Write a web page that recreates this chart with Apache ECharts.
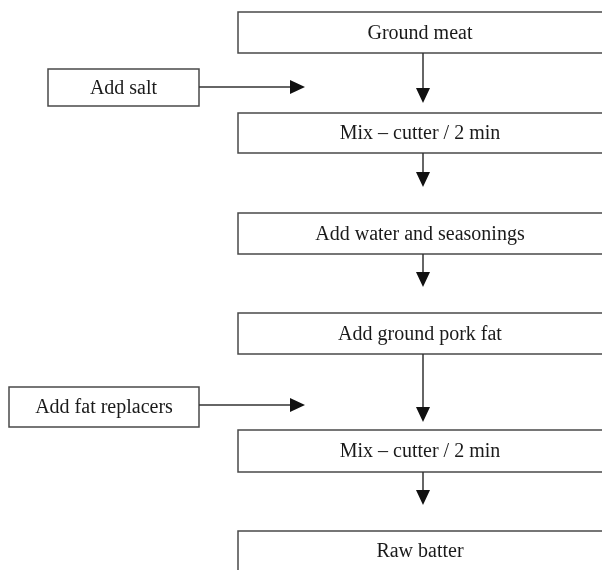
<!DOCTYPE html>
<html>
<head>
<meta charset="utf-8">
<script src="https://cdn.jsdelivr.net/npm/echarts@6/dist/echarts.min.js"></script>
<style>html,body{margin:0;padding:0;background:#fff}#c{width:602px;height:570px}</style>
</head>
<body>
<div id="c"></div>
<script>
// Flowchart labels
const steps = ['Ground meat', 'Mix – cutter / 2 min', 'Add water and seasonings', 'Add ground pork fat', 'Mix – cutter / 2 min', 'Raw batter'];
const additions = ['Add salt', 'Add fat replacers'];

// Layout (chart units = pixels of the canvas)
const mainX = [238, 606];
const mainY = [[12, 53], [113, 153], [213, 254], [313, 354], [430, 472], [531, 590]];
const sideX = [[48, 199], [9, 199]];
const sideY = [[69, 106], [387, 427]];
const flowX = 423;
const vArrows = [[53, 103], [153, 187], [254, 287], [354, 422], [472, 505]];
const hArrowY = [87, 405];
const hArrowX = [199, 305];

const boxData = [];
steps.forEach((s, i) => boxData.push([mainX[0], mainY[i][0], mainX[1], mainY[i][1], s]));
additions.forEach((s, i) => boxData.push([sideX[i][0], sideY[i][0], sideX[i][1], sideY[i][1], s]));

const arrowData = [];
vArrows.forEach(a => arrowData.push([flowX, a[0], flowX, a[1]]));
hArrowY.forEach(y => arrowData.push([hArrowX[0], y, hArrowX[1], y]));

const chart = echarts.init(document.getElementById('c'), null, {renderer: 'canvas'});
chart.setOption({
  animation: false,
  backgroundColor: '#ffffff',
  grid: {left: 0, right: 0, top: 0, bottom: 0},
  xAxis: {type: 'value', min: 0, max: 602, show: false},
  yAxis: {type: 'value', min: 0, max: 570, inverse: true, show: false},
  series: [
    {
      type: 'custom',
      coordinateSystem: 'cartesian2d',
      data: boxData,
      encode: {x: [0, 2], y: [1, 3]},
      clip: false,
      renderItem: function (params, api) {
        const p0 = api.coord([api.value(0), api.value(1)]);
        const p1 = api.coord([api.value(2), api.value(3)]);
        const label = boxData[params.dataIndex][4];
        return {
          type: 'group',
          children: [
            {type: 'rect', shape: {x: p0[0], y: p0[1], width: p1[0] - p0[0], height: p1[1] - p0[1]},
             style: {fill: '#ffffff', stroke: '#4a4a4a', lineWidth: 1.5}},
            {type: 'text', style: {x: (p0[0] + Math.min(p1[0], 602)) / 2, y: (p0[1] + Math.min(p1[1], 570)) / 2 + 1,
              text: label, fill: '#1a1a1a', font: '20px "Liberation Serif", "DejaVu Serif", serif',
              align: 'center', verticalAlign: 'middle'}}
          ]
        };
      }
    },
    {
      type: 'custom',
      coordinateSystem: 'cartesian2d',
      data: arrowData,
      encode: {x: [0, 2], y: [1, 3]},
      clip: false,
      renderItem: function (params, api) {
        const a = api.coord([api.value(0), api.value(1)]);
        const b = api.coord([api.value(2), api.value(3)]);
        const dx = b[0] - a[0], dy = b[1] - a[1];
        const len = Math.sqrt(dx * dx + dy * dy);
        const ux = dx / len, uy = dy / len;
        const hl = 15, hw = 7;
        const base = [b[0] - ux * hl, b[1] - uy * hl];
        return {
          type: 'group',
          children: [
            {type: 'line', shape: {x1: a[0], y1: a[1], x2: base[0], y2: base[1]},
             style: {stroke: '#333', lineWidth: 1.5}},
            {type: 'polygon', shape: {points: [b, [base[0] - uy * hw, base[1] + ux * hw], [base[0] + uy * hw, base[1] - ux * hw]]},
             style: {fill: '#111'}}
          ]
        };
      }
    }
  ]
});
</script>
</body>
</html>
